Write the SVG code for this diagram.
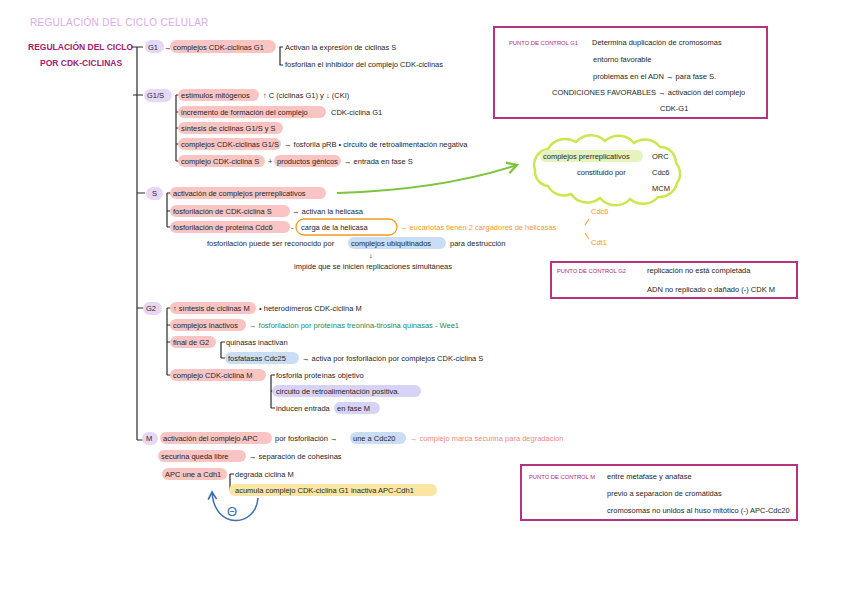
<svg xmlns="http://www.w3.org/2000/svg" width="848" height="599" viewBox="0 0 848 599">
<style>
text{font-family:"Liberation Sans",Arial,sans-serif;font-size:7.5px;fill:#262626}
.t{font-size:10px;fill:#dcaaf0;letter-spacing:0.3px}
.st{font-size:8.5px;font-weight:bold;fill:#a3206e}
.pc{font-size:5.8px;fill:#b0287a}
.or{fill:#f39a1e}
.sal{fill:#f08a80}
.teal{fill:#1d8a5c}
.pk{fill:#f9c4c2}
.lv{fill:#e7d7f7}
.bl{fill:#c9ddf5}
.pu{fill:#d6d3f6}
.ye{fill:#fbe5a3}
.gr{fill:#e7f3bd}
.ln{fill:none;stroke:#2a2a2a;stroke-width:1.2}
.box{fill:none;stroke:#b5337f;stroke-width:2}
</style>
<defs>
<marker id="ga" viewBox="0 0 10 10" refX="8" refY="5" markerWidth="7" markerHeight="7" orient="auto"><path d="M1,1 L8,5 L1,9" fill="none" stroke="#7cc43a" stroke-width="1.6"/></marker>
<marker id="ba" viewBox="0 0 10 10" refX="8" refY="5" markerWidth="7" markerHeight="7" orient="auto"><path d="M1,1 L8,5 L1,9" fill="none" stroke="#3a6fb0" stroke-width="1.6"/></marker>
</defs>
<rect width="848" height="599" fill="#fff"/>

<g id="title">
<text class="t" x="30" y="26">REGULACIÓN DEL CICLO CELULAR</text>
<text class="st" x="28" y="50">REGULACIÓN DEL CICLO</text>
<text class="st" x="40" y="66">POR CDK-CICLINAS</text>
</g>

<g id="connectors">
<path class="ln" stroke-width="2" d="M137,47 V440 M131,47 H143 M133,95 H143 M137,193 H145 M137,308 H143 M137,440 H143"/>
<path class="ln" d="M283,47 H280 V65 H283"/>
<path class="ln" d="M176,95 V161 M176,95 H180 M176,112 H180 M176,128 H180 M176,144 H180 M176,161 H180"/>
<path class="ln" d="M167,193 V227 M167,193 H171 M167,211 H171 M167,227 H171"/>
<path class="ln" d="M647,156 V188 M647,156 H651 M647,172 H651 M647,188 H651"/>
<path class="ln" d="M167,308 V375 M167,308 H171 M167,325 H171 M167,342 H171 M167,375 H171"/>
<path class="ln" d="M221,342 V358 M221,342 H225 M221,358 H225"/>
<path class="ln" d="M271,375 V408 M271,375 H275 M271,391 H275 M271,408 H275"/>
<path class="ln" d="M230,474 V490 M230,474 H234 M230,490 H234"/>
<path d="M337,193 Q 440,190 517,165" fill="none" stroke="#7cc43a" stroke-width="2" marker-end="url(#ga)"/>
<path d="M258,498 C 256,528 214,530 212,492" fill="none" stroke="#3a6fb0" stroke-width="1.5" marker-end="url(#ba)"/>
<path d="M589,219 L585,225 M585,233 L589,239" fill="none" stroke="#f39a1e" stroke-width="1"/>
</g>

<g id="g1">
<rect class="lv" x="145" y="40" width="19" height="13" rx="6.5"/>
<text x="148" y="50">G1</text>
<text x="164" y="50">→</text>
<rect class="pk" x="170" y="40" width="106" height="13" rx="6.5"/>
<text x="173" y="50">complejos CDK-ciclinas G1</text>
<text x="285" y="50">Activan la expresión de ciclinas S</text>
<text x="285" y="67">fosforilan el inhibidor del complejo CDK-ciclinas</text>
</g>

<g id="g1s">
<rect class="lv" x="144" y="89" width="28" height="13" rx="6.5"/>
<text x="147" y="98">G1/S</text>
<rect class="pk" x="178" y="89" width="81" height="12" rx="6"/>
<text x="181" y="98">estímulos mitógenos</text>
<text x="263" y="98">↑ C (ciclinas G1) y ↓ (CKI)</text>
<rect class="pk" x="178" y="106" width="148" height="12" rx="6"/>
<text x="181" y="115">incremento de formación del complejo</text>
<text x="331" y="115">CDK-ciclina G1</text>
<rect class="pk" x="178" y="122" width="105" height="12" rx="6"/>
<text x="181" y="131">síntesis de ciclinas G1/S y S</text>
<rect class="pk" x="178" y="138" width="103" height="12" rx="6"/>
<text x="181" y="147">complejos CDK-ciclinas G1/S</text>
<text x="284" y="147">→ fosforila pRB • circuito de retroalimentación negativa</text>
<rect class="pk" x="178" y="155" width="87" height="12" rx="6"/>
<text x="181" y="164">complejo CDK-ciclina S</text>
<text x="268" y="164">+</text>
<rect class="pk" x="274" y="155" width="67" height="12" rx="6"/>
<text x="277" y="164">productos génicos</text>
<text x="344" y="164">→ entrada en fase S</text>
</g>

<g id="s">
<rect class="lv" x="146" y="187" width="17" height="13" rx="6.5"/>
<text x="152" y="196">S</text>
<rect class="pk" x="170" y="187" width="156" height="12" rx="6"/>
<text x="173" y="196">activación de complejos prerreplicativos</text>
<rect class="pk" x="170" y="205" width="120" height="12" rx="6"/>
<text x="173" y="214">fosforilación de CDK-ciclina S</text>
<text x="292" y="214">→ activan la helicasa</text>
<rect class="pk" x="170" y="221" width="120" height="12" rx="6"/>
<text x="173" y="230">fosforilación de proteína Cdc6</text>
<text x="291" y="230">-</text>
<rect x="296" y="219" width="101" height="16" rx="8" fill="none" stroke="#f39a1e" stroke-width="1.3"/>
<text x="301" y="230">carga de la helicasa</text>
<text class="or" x="400" y="230">→ eucariotas tienen 2 cargadores de helicasas</text>
<text class="or" x="591" y="214">Cdc6</text>
<text class="or" x="591" y="245">Cdt1</text>
<text x="207" y="246">fosforilación puede ser reconocido por</text>
<rect class="bl" x="348" y="237" width="98" height="12" rx="6"/>
<text x="351" y="246">complejos ubiquitinados</text>
<text x="450" y="246">para destrucción</text>
<text x="369" y="258">↓</text>
<text x="294" y="269">impide que se inicien replicaciones simultáneas</text>
</g>

<g id="prerreplicativos">
<path d="M535,170 A16,16 0 0 1 548,149 A20,20 0 0 1 576,142 A20,20 0 0 1 605,141 A20,20 0 0 1 634,143 A19,19 0 0 1 660,147 A16,16 0 0 1 676,163 A16,16 0 0 1 677,183 A18,18 0 0 1 658,197 A20,20 0 0 1 630,199 A20,20 0 0 1 600,198 A20,20 0 0 1 571,194 A18,18 0 0 1 548,186 A15,15 0 0 1 535,170 Z" fill="#fff" stroke="#c9e84e" stroke-width="2.5"/>
<rect class="gr" x="540" y="150" width="103" height="12" rx="6"/>
<text x="543" y="159">complejos prerreplicativos</text>
<text x="577" y="175">constituido por</text>
<text x="652" y="159">ORC</text>
<text x="652" y="175">Cdc6</text>
<text x="652" y="191">MCM</text>
</g>

<g id="pc-g1">
<rect class="box" x="494" y="27" width="273" height="91"/>
<text class="pc" x="509" y="45">PUNTO DE CONTROL G1</text>
<text x="592" y="45">Determina duplicación de cromosomas</text>
<text x="593" y="62">entorno favorable</text>
<text x="593" y="79">problemas en el ADN → para fase S.</text>
<text x="552" y="95">CONDICIONES FAVORABLES → activación del complejo</text>
<text x="660" y="111">CDK-G1</text>
</g>

<g id="pc-g2">
<rect class="box" x="551" y="262" width="246" height="36"/>
<text class="pc" x="557" y="273">PUNTO DE CONTROL G2</text>
<text x="647" y="273">replicación no está completada</text>
<text x="647" y="292">ADN no replicado o dañado (-) CDK M</text>
</g>

<g id="g2">
<rect class="lv" x="143" y="302" width="19" height="13" rx="6.5"/>
<text x="146" y="311">G2</text>
<rect class="pk" x="170" y="302" width="86" height="12" rx="6"/>
<text x="173" y="311">↑ síntesis de ciclinas M</text>
<text x="259" y="311">• heterodímeros CDK-ciclina M</text>
<rect class="pk" x="170" y="319" width="76" height="12" rx="6"/>
<text x="173" y="328">complejos inactivos</text>
<text class="teal" x="249" y="328">→ fosforilación por proteínas treonina-tirosina quinasas - Wee1</text>
<rect class="pk" x="170" y="336" width="46" height="12" rx="6"/>
<text x="173" y="345">final de G2</text>
<text x="226" y="345">quinasas inactivan</text>
<rect class="bl" x="225" y="352" width="74" height="12" rx="6"/>
<text x="228" y="361">fosfatasas Cdc25</text>
<text x="302" y="361">→ activa por fosforilación por complejos CDK-ciclina S</text>
<rect class="pk" x="170" y="369" width="96" height="12" rx="6"/>
<text x="173" y="378">complejo CDK-ciclina M</text>
<text x="276" y="378">fosforila proteínas objetivo</text>
<rect class="pu" x="272" y="385" width="149" height="12" rx="6"/>
<text x="276" y="394">circuito de retroalimentación positiva.</text>
<text x="276" y="411">inducen entrada</text>
<rect class="pu" x="334" y="402" width="46" height="12" rx="6"/>
<text x="337" y="411">en fase M</text>
</g>

<g id="m">
<rect class="lv" x="142" y="432" width="16" height="13" rx="6.5"/>
<text x="146" y="441">M</text>
<rect class="pk" x="160" y="432" width="112" height="12" rx="6"/>
<text x="163" y="441">activación del complejo APC</text>
<text x="275" y="441">por fosforilación →</text>
<rect class="bl" x="350" y="432" width="56" height="12" rx="6"/>
<text x="353" y="441">une a Cdc20</text>
<text class="sal" x="410" y="441">→ complejo marca securina para degradación</text>
<rect class="pk" x="158" y="450" width="88" height="12" rx="6"/>
<text x="161" y="459">securina queda libre</text>
<text x="249" y="459">→ separación de cohesinas</text>
<rect class="pk" x="162" y="468" width="65" height="12" rx="6"/>
<text x="165" y="477">APC une a Cdh1</text>
<text x="235" y="477">degrada ciclina M</text>
<rect class="ye" x="229" y="484" width="208" height="12" rx="6"/>
<text x="235" y="493">acumula complejo CDK-ciclina G1 inactiva APC-Cdh1</text>
<text x="227" y="516" style="font-size:13px;fill:#3a6fb0">Θ</text>
</g>

<g id="pc-m">
<rect class="box" x="521" y="465" width="276" height="55"/>
<text class="pc" x="529" y="479">PUNTO DE CONTROL M</text>
<text x="607" y="479">entre metafase y anafase</text>
<text x="607" y="496">previo a separación de cromátidas</text>
<text x="607" y="513">cromosomas no unidos al huso mitótico (-) APC-Cdc20</text>
</g>
</svg>
